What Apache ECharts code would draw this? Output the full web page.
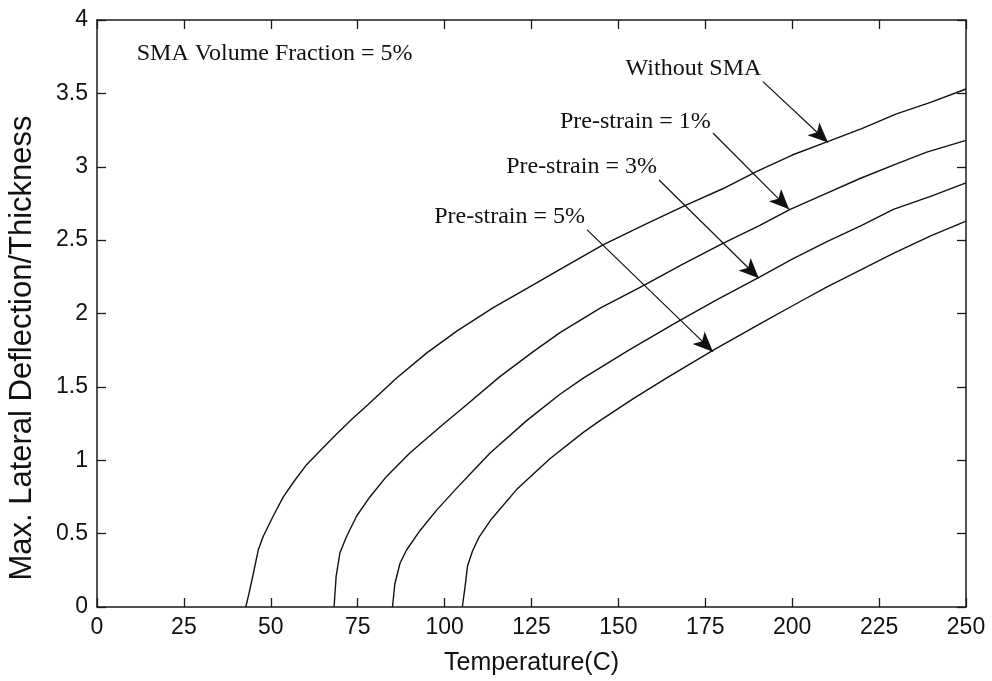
<!DOCTYPE html>
<html>
<head>
<meta charset="utf-8">
<script src="https://cdn.jsdelivr.net/npm/echarts@6/dist/echarts.min.js"></script>
<style>
  html, body { margin: 0; padding: 0; background: #fff; }
  #chart { width: 992px; height: 681px; }
</style>
</head>
<body>
<div id="chart"></div>
<script>
// Axis ticks
const xTicks = [0, 25, 50, 75, 100, 125, 150, 175, 200, 225, 250];
const yTicks = [0, 0.5, 1, 1.5, 2, 2.5, 3, 3.5, 4];

// Max. lateral deflection / thickness vs temperature (C)
const tempWithout = [42.8, 43.7, 45.0, 46.4, 47.8, 50.7, 53.6, 56.5, 60.3, 64.4, 69.0, 73.3, 78.0, 86.2, 94.8, 103.5, 114.0, 123.6, 133.2, 145.7, 158, 169.6, 180, 190, 200, 210, 220, 230, 240, 250];
const deflWithout = [0, 0.09, 0.23, 0.39, 0.48, 0.62, 0.75, 0.85, 0.97, 1.07, 1.18, 1.28, 1.38, 1.56, 1.73, 1.88, 2.04, 2.17, 2.30, 2.47, 2.61, 2.74, 2.85, 2.97, 3.08, 3.17, 3.26, 3.36, 3.44, 3.53];

const temp1 = [68.2, 68.8, 69.9, 71.8, 74.7, 78.5, 83.3, 90.0, 93.9, 99.6, 105.4, 115.9, 125.5, 133.2, 145, 157.2, 168, 180.2, 190.7, 199.4, 210, 219.5, 230, 238.7, 250];
const defl1 = [0, 0.21, 0.37, 0.48, 0.62, 0.75, 0.89, 1.05, 1.13, 1.245, 1.36, 1.57, 1.74, 1.87, 2.04, 2.19, 2.33, 2.48, 2.60, 2.71, 2.82, 2.92, 3.02, 3.10, 3.18];

const temp3 = [85.0, 85.7, 87.2, 89.1, 92.9, 97.7, 103.5, 108.3, 113.1, 123.6, 133.2, 139.9, 153, 166.7, 178, 190.7, 200, 210, 220, 229.1, 240, 250];
const defl3 = [0, 0.16, 0.30, 0.39, 0.52, 0.66, 0.81, 0.93, 1.05, 1.27, 1.45, 1.56, 1.75, 1.94, 2.09, 2.25, 2.37, 2.49, 2.60, 2.71, 2.80, 2.89];

const temp5 = [105.1, 105.9, 106.6, 108.0, 110.0, 113.5, 120.7, 130.3, 139.9, 144.7, 154.3, 163.8, 177.3, 190.7, 202.2, 209.9, 220, 229.1, 240, 250];
const defl5 = [0, 0.14, 0.28, 0.38, 0.48, 0.60, 0.80, 1.01, 1.19, 1.27, 1.42, 1.56, 1.75, 1.93, 2.08, 2.18, 2.30, 2.41, 2.53, 2.63];

// Annotation labels: [text, temperature, deflection]
const noteLabels = [
  ['SMA Volume Fraction = 5%', 51.1, 3.77],
  ['Without SMA', 171.6, 3.67],
  ['Pre-strain = 1%', 154.9, 3.305],
  ['Pre-strain = 3%', 139.4, 3.0],
  ['Pre-strain = 5%', 118.7, 2.66]
];
// Arrows: [fromT, fromDefl, toT, toDefl]
const arrowLines = [
  [191.6, 3.58, 210.3, 3.165],
  [177.2, 3.23, 199.1, 2.71],
  [161.7, 2.91, 190.4, 2.24],
  [141.0, 2.57, 177.2, 1.74]
];

const zip = (xs, ys) => xs.map((x, i) => [x, ys[i]]);

const SANS = '"Liberation Sans", Arial, sans-serif';
const SERIF = '"Liberation Serif", "Times New Roman", serif';
const INK = '#111';

function curve(name, xs, ys) {
  return {
    name: name,
    type: 'line',
    data: zip(xs, ys),
    showSymbol: false,
    smooth: false,
    lineStyle: { color: INK, width: 1.4 },
    silent: true,
    animation: false,
    z: 3
  };
}

const chart = echarts.init(document.getElementById('chart'), null, { renderer: 'canvas' });

const axisLine = { show: true, onZero: false, lineStyle: { color: '#1a1a1a', width: 1.5 } };
const tick = { show: true, inside: true, length: 9, lineStyle: { color: '#1a1a1a', width: 1.3 } };

chart.setOption({
  backgroundColor: '#fff',
  animation: false,
  grid: { left: 97, right: 26, top: 20, bottom: 74, containLabel: false },
  xAxis: [
    {
      type: 'value', position: 'bottom', min: xTicks[0], max: xTicks[xTicks.length - 1], interval: 25,
      axisLine: axisLine, axisTick: tick, splitLine: { show: false },
      axisLabel: { color: '#111', fontFamily: SANS, fontSize: 23, margin: 9 },
      name: 'Temperature(C)', nameLocation: 'middle', nameGap: 44,
      nameTextStyle: { color: '#111', fontFamily: SANS, fontSize: 25 }
    },
    {
      type: 'value', position: 'top', min: xTicks[0], max: xTicks[xTicks.length - 1], interval: 25,
      axisLine: axisLine, axisTick: tick, axisLabel: { show: false }, splitLine: { show: false }
    }
  ],
  yAxis: [
    {
      type: 'value', position: 'left', min: yTicks[0], max: yTicks[yTicks.length - 1], interval: 0.5,
      axisLine: axisLine, axisTick: tick, splitLine: { show: false },
      axisLabel: { color: '#111', fontFamily: SANS, fontSize: 23, margin: 9 }
    },
    {
      type: 'value', position: 'right', min: yTicks[0], max: yTicks[yTicks.length - 1], interval: 0.5,
      axisLine: axisLine, axisTick: tick, axisLabel: { show: false }, splitLine: { show: false }
    }
  ],
  graphic: [
    {
      type: 'text', x: 22, y: 348, rotation: Math.PI / 2,
      style: {
        text: 'Max. Lateral Deflection/Thickness',
        font: '31px ' + SANS, fill: '#111',
        textAlign: 'center', textVerticalAlign: 'middle'
      }
    }
  ],
  series: [
    curve('Without SMA', tempWithout, deflWithout),
    curve('Pre-strain = 1%', temp1, defl1),
    curve('Pre-strain = 3%', temp3, defl3),
    curve('Pre-strain = 5%', temp5, defl5),
    {
      name: 'notes',
      type: 'line',
      data: [],
      silent: true,
      markPoint: {
        silent: true,
        symbol: 'circle',
        symbolSize: 1,
        itemStyle: { color: 'rgba(0,0,0,0)' },
        label: {
          show: true, position: 'inside', color: '#111',
          fontFamily: SERIF, fontSize: 24
        },
        data: noteLabels.map(n => ({
          coord: [n[1], n[2]],
          label: { formatter: n[0] }
        }))
      },
      markLine: {
        silent: true,
        symbol: ['none', 'arrow'],
        symbolSize: [13, 20],
        label: { show: false },
        lineStyle: { color: INK, width: 1.2, type: 'solid' },
        emphasis: { disabled: true },
        data: arrowLines.map(a => [
          { coord: [a[0], a[1]] },
          { coord: [a[2], a[3]] }
        ])
      }
    }
  ]
});
</script>
</body>
</html>
